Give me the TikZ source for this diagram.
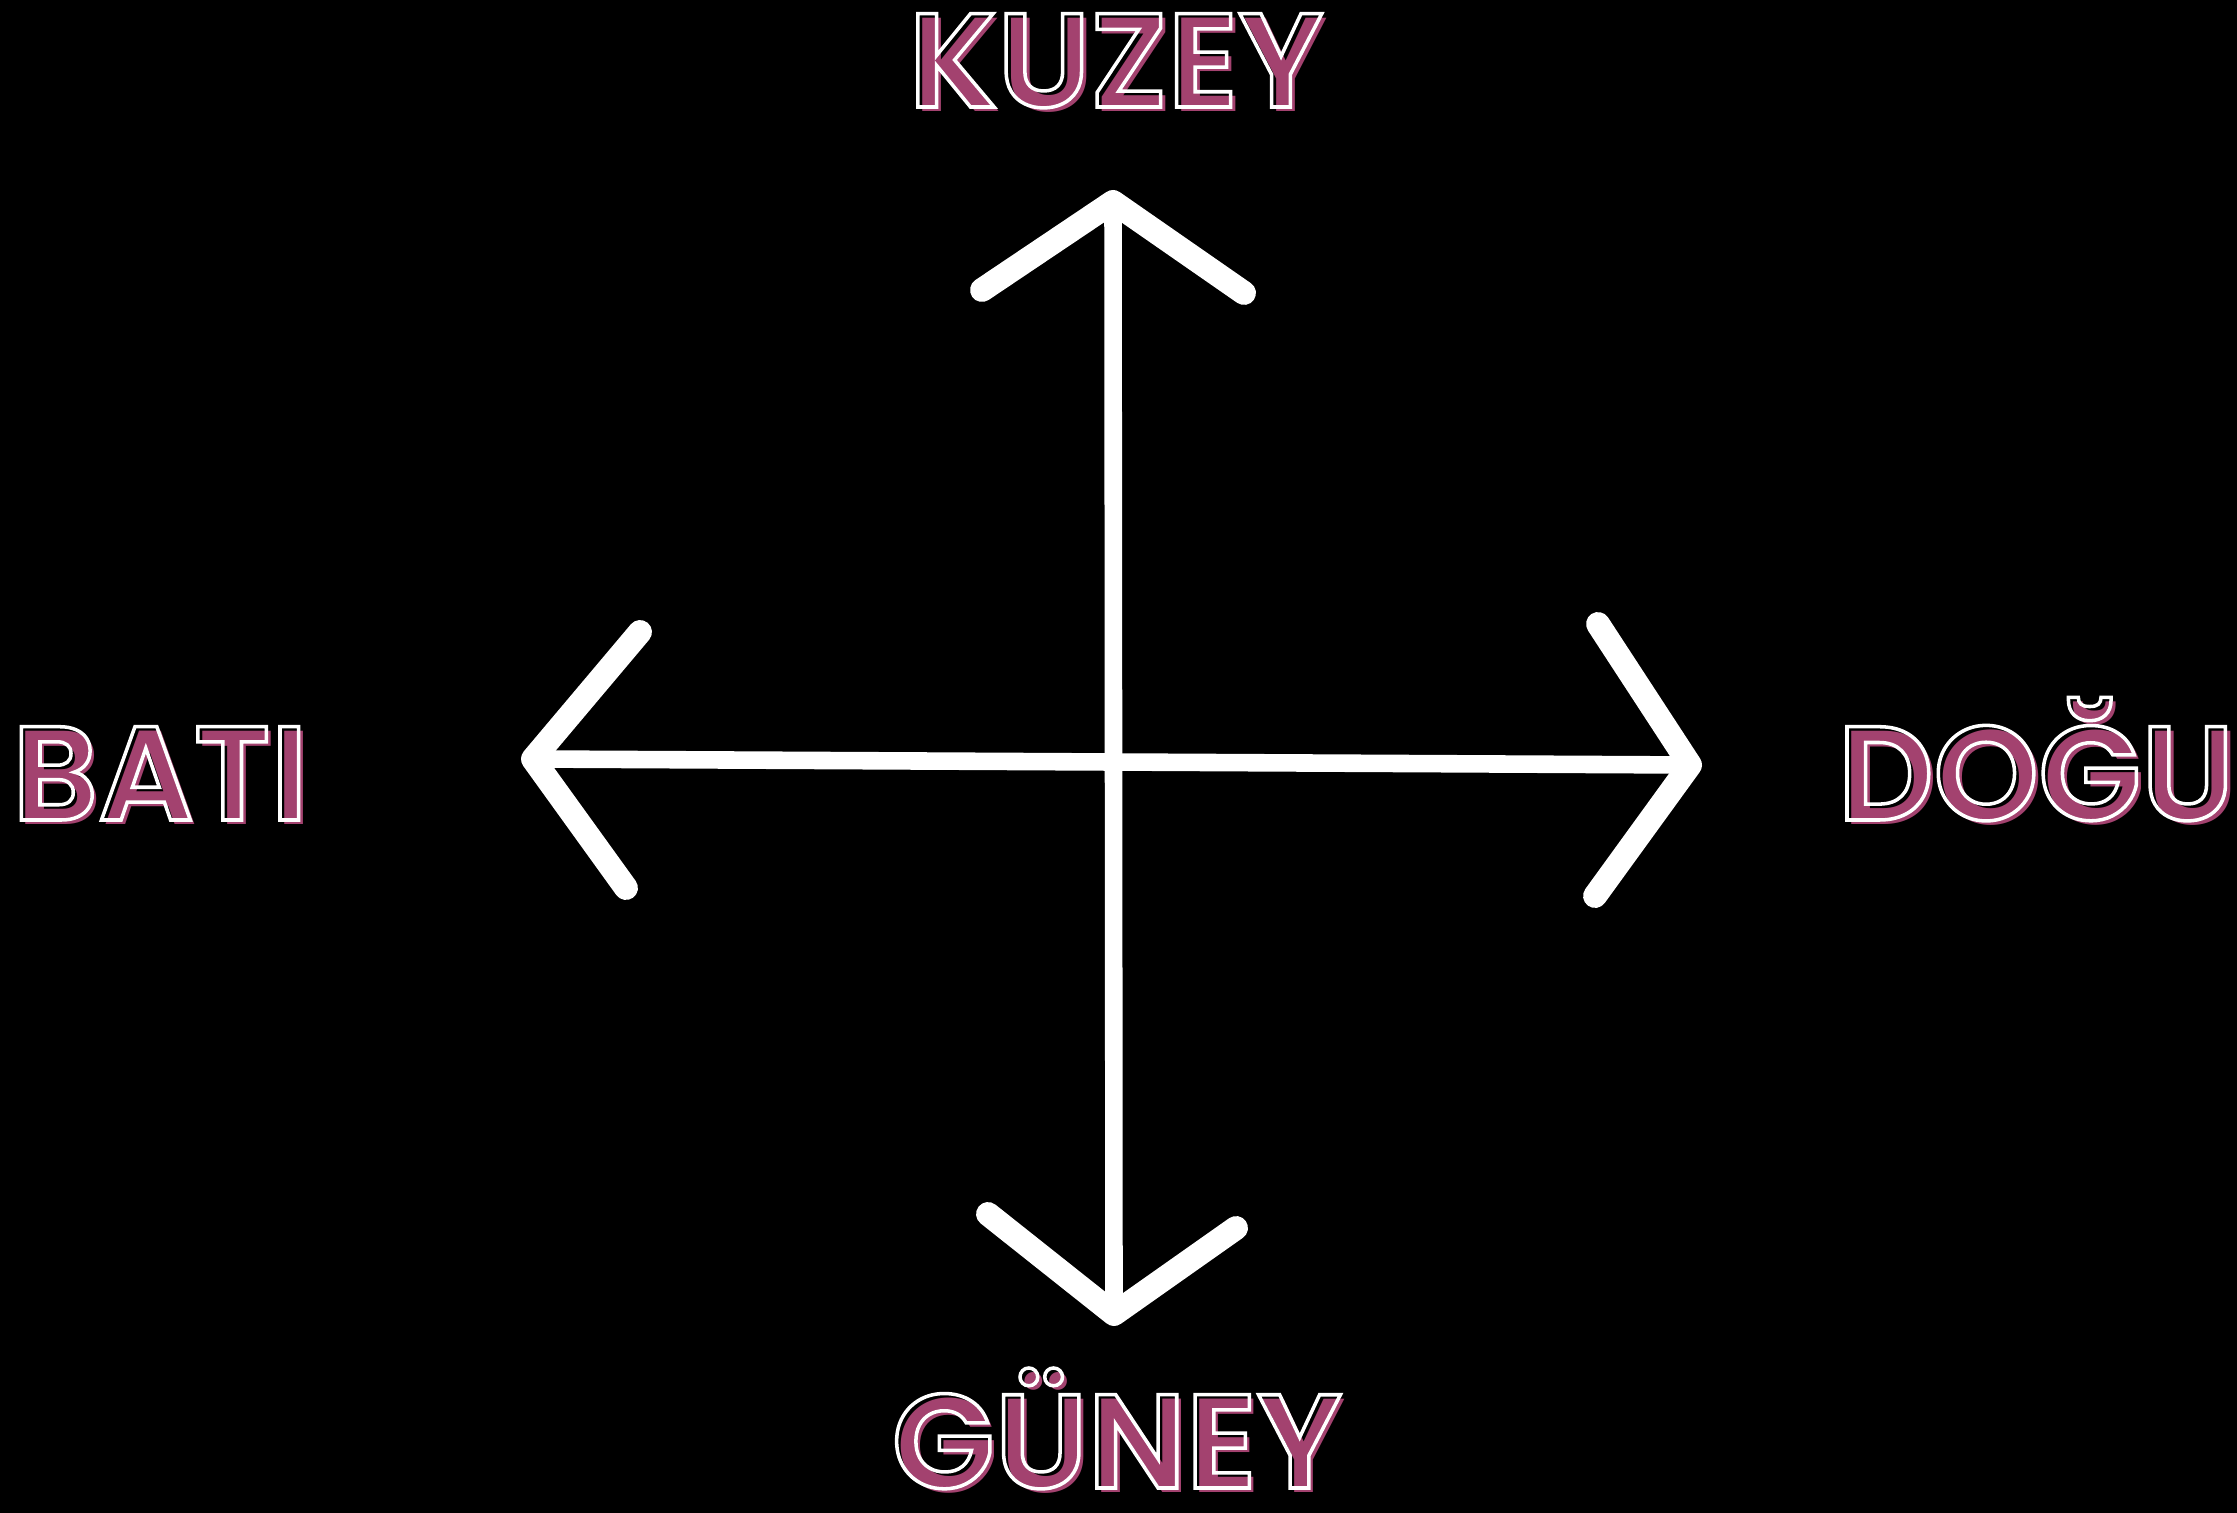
\documentclass[tikz,border=0pt]{standalone}
\usepackage{fontspec}
\usepackage{xcolor}
\usepackage{tikz}

\newfontfamily\dirfont{Poppins}[UprightFont=* SemiBold]
\definecolor{dirpink}{HTML}{A3426F}

% pink copy set a little down-right, white outline on top
\newcommand\dirlabel[1]{%
  \makebox[0pt][l]{\hspace*{1.4pt}\raisebox{-1.4pt}{\color{dirpink}#1}}%
  {\color{white}\special{pdf:literal direct 1 w 1 Tr}#1\special{pdf:literal direct 0 Tr}}}

\begin{document}
\begin{tikzpicture}[
    x=0.01cm, y=-0.01cm,
    chalk/.style={draw=white, line width=5pt, line cap=round, line join=round},
    head/.style={chalk, line width=6.8pt},
    dir/.style={
        font=\dirfont\fontsize{38}{40}\selectfont,
        anchor=base, inner sep=0pt,
    },
]

% ── Background ───────────────────────────────────────────────────────
\fill[black] (0,0) rectangle (2237,1513);
\useasboundingbox (0,0) rectangle (2237,1513);

% ── Tips and arms ────────────────────────────────────────────────────
\coordinate (ntip) at (1113,202);
\coordinate (nl)   at (982,290);
\coordinate (nr)   at (1244,293);
\coordinate (stip) at (1114,1314);
\coordinate (sl)   at (988,1214);
\coordinate (sr)   at (1236,1228);
\coordinate (wtip) at (533,759);
\coordinate (wu)   at (640,632);
\coordinate (wd)   at (626,888);
\coordinate (etip) at (1690,765);
\coordinate (eu)   at (1598,624);
\coordinate (ed)   at (1595,896);

% ── Labels ───────────────────────────────────────────────────────────
\node[dir] (kuzey) at (1116,107)  {\dirlabel{KUZEY}};
\node[dir] (guney) at (1117,1488) {\dirlabel{GÜNEY}};
\node[dir] (bati)  at (160,820)   {\dirlabel{BATI}};
\node[dir] (dogu)  at (2036,820)  {\dirlabel{DOĞU}};

% ── Cross ────────────────────────────────────────────────────────────
\draw[chalk] (ntip) -- (stip);
\draw[chalk] (wtip) -- (etip);

% ── Arrow heads ──────────────────────────────────────────────────────
\draw[head] (nl) -- (ntip) -- (nr);
\draw[head] (sl) -- (stip) -- (sr);
\draw[head] (wu) -- (wtip) -- (wd);
\draw[head] (eu) -- (etip) -- (ed);

\end{tikzpicture}
\end{document}
